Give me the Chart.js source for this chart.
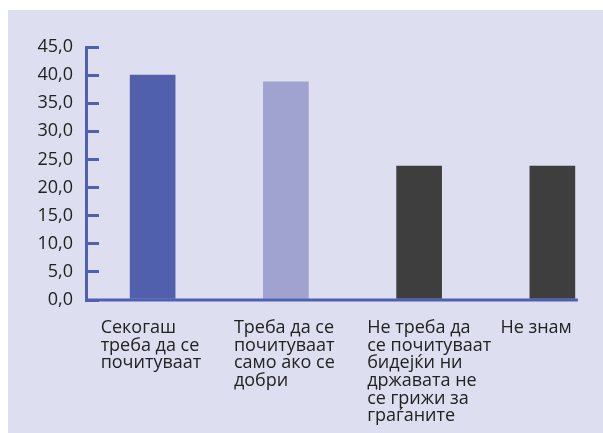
<!DOCTYPE html>
<html>
<head>
<meta charset="utf-8">
<script src="https://cdn.jsdelivr.net/npm/chart.js@4/dist/chart.umd.min.js"></script>
<style>
  html, body { margin: 0; padding: 0; background: #ffffff; width: 603px; height: 433px; overflow: hidden; }
  #wrap { position: absolute; left: 8px; top: 10px; width: 595px; height: 423px; background: #DDDEF0; overflow: hidden; }
  #box { position: absolute; left: 0; top: 0; width: 640px; height: 423px; }
</style>
</head>
<body>
<div id="wrap"><div id="box"><canvas id="c"></canvas></div></div>
<script>
const categories = [
  ['Секогаш', 'треба да се', 'почитуваат'],
  ['Треба да се', 'почитуваат', 'само ако се', 'добри'],
  ['Не треба да', 'се почитуваат', 'бидејќи ни', 'државата не', 'се грижи за', 'граѓаните'],
  'Не знам'
];
const values = [40.0, 38.8, 23.8, 23.8];
const barColors = ['#5060AD', '#A0A2D0', '#3E3E3E', '#3E3E3E'];
const yMin = 0, yMax = 45, yStep = 5;

const axisColor = '#5060B0';
const fontFamily = '"Open Sans", "Noto Sans", sans-serif';
const labelShift = [-56, -56, -49, -34];

const baselinePlugin = {
  id: 'baseline',
  afterDatasetsDraw(chart) {
    const meta = chart.getDatasetMeta(0);
    const last = meta.data[meta.data.length - 1];
    const y = chart.scales.y.getPixelForValue(0);
    const ctx = chart.ctx;
    ctx.save();
    ctx.strokeStyle = axisColor;
    ctx.lineWidth = 3;
    ctx.beginPath();
    ctx.moveTo(chart.chartArea.left, y);
    ctx.lineTo(last.x + last.width / 2 + 3, y);
    ctx.stroke();
    ctx.restore();
  }
};

new Chart(document.getElementById('c'), {
  type: 'bar',
  data: {
    labels: categories,
    datasets: [{
      data: values,
      backgroundColor: barColors,
      borderWidth: 0,
      barThickness: 45
    }]
  },
  options: {
    responsive: true,
    maintainAspectRatio: false,
    animation: false,
    layout: { padding: { top: 37, right: 29, bottom: 0, left: 0 } },
    plugins: { legend: { display: false }, tooltip: { enabled: false } },
    scales: {
      x: {
        grid: { display: false },
        border: { display: false },
        ticks: {
          autoSkip: false,
          maxRotation: 0,
          minRotation: 0,
          align: 'start',
          labelOffset: (ctx) => labelShift[ctx.index] ?? -52,
          padding: 11,
          color: '#222222',
          font: { family: fontFamily, size: 18, lineHeight: 0.98 }
        },
        afterFit(scale) { scale.height = 133; scale.paddingLeft = 0; scale.paddingRight = 0; }
      },
      y: {
        min: yMin,
        max: yMax,
        grid: { drawOnChartArea: false, drawTicks: true, tickLength: -13, color: axisColor, lineWidth: 3 },
        border: { display: true, color: axisColor, width: 3 },
        ticks: {
          stepSize: yStep,
          padding: 26,
          color: '#222222',
          font: { family: fontFamily, size: 18 },
          callback: (v) => Number(v).toFixed(1).replace('.', ',')
        },
        afterFit(scale) { scale.width = 78; }
      }
    }
  },
  plugins: [baselinePlugin]
});
</script>
</body>
</html>
